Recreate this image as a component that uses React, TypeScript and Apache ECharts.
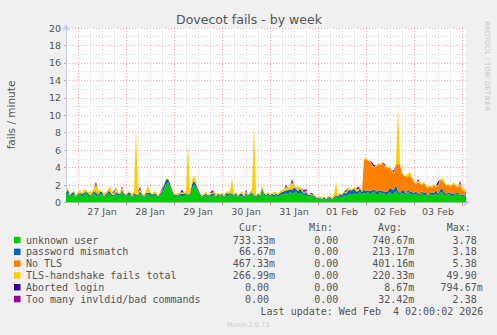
import React, { useEffect, useRef } from 'react';
import * as echarts from 'echarts';

// hourly samples from 26 Jan 18:00 to 04 Feb 02:00 (201 points)
const START_DAY = 26;
const START_HOUR = 18;
const N_POINTS = 201;

const DAY_LABELS = ['27 Jan', '28 Jan', '29 Jan', '30 Jan', '31 Jan', '01 Feb', '02 Feb', '03 Feb'];
const Y_TICKS = { min: 0, max: 20, step: 2 };

const UNKNOWN_USER = [
  0.9,1.1,0.7,0.8,1.0,0.6,
  0.8,1.0,0.7,0.9,1.2,0.8,0.6,0.9,1.1,0.7,0.8,1.0,0.9,0.6,0.8,1.1,0.9,0.7,0.8,1.0,0.7,0.9,1.2,0.8,
  0.7,0.9,0.8,0.6,0.9,0.7,0.8,1.0,0.7,0.6,0.9,1.0,0.8,0.7,0.9,0.8,0.6,0.8,1.0,1.5,2.1,2.3,1.8,1.1,
  0.7,0.8,0.6,0.9,0.7,0.8,1.0,0.7,0.9,1.6,2.0,1.7,1.2,0.8,0.6,0.7,0.9,0.6,0.8,0.7,0.9,0.6,0.8,0.7,
  0.8,0.6,0.9,0.7,1.0,0.8,0.7,0.9,0.6,0.8,0.7,0.6,0.9,0.7,0.8,1.1,0.7,0.6,0.8,0.7,1.5,0.8,0.7,0.9,
  0.7,0.8,0.6,0.9,0.7,0.8,1.0,0.9,1.1,0.9,1.2,1.0,1.1,1.3,0.9,1.1,1.0,0.8,0.9,0.7,0.8,0.6,0.7,0.5,
  0.4,0.5,0.3,0.4,0.3,0.5,0.4,0.3,0.5,0.6,0.5,0.7,0.6,0.8,0.7,0.9,1.0,0.8,1.1,0.9,1.0,1.2,0.9,1.1,
  1.0,1.2,0.9,1.1,1.3,1.0,0.9,1.2,1.0,1.1,0.8,1.0,1.2,0.9,1.1,1.3,1.0,0.9,1.1,1.0,0.8,1.2,1.0,0.9,
  0.9,1.0,0.8,0.9,1.1,0.8,0.9,0.7,1.0,0.8,0.9,1.0,0.8,1.1,1.2,0.9,0.8,1.0,0.9,0.7,0.8,1.0,0.9,0.8,
  0.7,0.8,0.73,
];

const PASSWORD_MISMATCH = [
  0.2,0.4,0.1,0.3,0.2,0.1,
  0.2,0.1,0.3,0.2,0.1,0.3,0.2,0.1,0.2,0.4,0.1,0.2,0.3,0.1,0.2,0.1,0.3,0.2,0.1,0.2,0.3,0.1,0.2,0.2,
  0.1,0.2,0.3,0.1,0.2,0.2,0.1,0.3,0.2,0.1,0.2,0.1,0.3,0.2,0.1,0.2,0.1,0.2,0.3,0.5,0.5,0.4,0.4,0.3,
  0.2,0.1,0.2,0.1,0.3,0.2,0.1,0.2,0.1,0.5,0.5,0.4,0.3,0.2,0.1,0.2,0.1,0.2,0.1,0.3,0.2,0.1,0.2,0.1,
  0.2,0.1,0.2,0.3,0.1,0.2,0.1,0.2,0.1,0.2,0.3,0.1,0.2,0.1,0.2,0.1,0.2,0.1,0.2,0.1,0.2,0.3,0.1,0.2,
  0.1,0.2,0.3,0.1,0.2,0.3,0.2,0.4,0.3,0.5,0.3,0.4,0.6,0.3,0.4,0.5,0.3,0.2,0.3,0.2,0.1,0.2,0.1,0.1,
  0.1,0.1,0.1,0.2,0.1,0.1,0.2,0.1,0.1,0.2,0.2,0.3,0.2,0.4,0.3,0.5,0.4,0.6,0.5,0.4,0.3,0.4,0.3,0.4,
  0.3,0.2,0.4,0.3,0.2,0.3,0.4,0.2,0.3,0.2,0.4,0.3,0.5,0.6,0.4,0.7,0.3,0.2,0.3,0.4,0.2,0.3,0.2,0.3,
  0.2,0.3,0.2,0.1,0.2,0.3,0.2,0.1,0.2,0.3,0.2,0.4,0.2,0.3,0.5,0.3,0.2,0.1,0.2,0.3,0.2,0.1,0.2,0.1,
  0.2,0.1,0.07,
];

const NO_TLS = [
  0,0,0,0,0,0,
  0,0,0,0,0,0,0,0,0.1,0.2,0.1,0,0,0.1,0,0.2,0.1,0,0,0.1,0,0,0,0,
  0,0,0,0,0,0,0,0,0,0,0,0,0,0,0,0,0,0,0,0,0,0,0,0,
  0,0,0,0,0,0,0,0,0,0,0,0,0,0,0,0,0,0,0,0,0,0,0,0,
  0,0,0,0,0,0,0,0,0,0,0,0,0,0,0,0,0,0,0,0,0,0,0,0,
  0,0,0,0,0,0,0,0,0,0,0.1,0.2,0,0,0.1,0,0,0,0,0,0,0,0,0,
  0,0,0,0,0,0,0,0,0,0,0,0,0,0,0,0,0,0,0,0,0,0,0,3.4,
  3.7,3.4,3.4,2.8,2.5,2.8,3.1,2.9,3.2,2.9,2.9,2.6,2.3,2.1,1.8,2.3,3.2,3.2,1.9,1.7,1.9,1.5,1.8,1.6,
  1.2,0.8,1.3,1.2,0.7,1.2,0.7,0.9,0.7,0.6,0.9,0.4,0.9,1.0,0.9,1.1,0.9,1.0,0.7,1.0,1.1,0.8,0.6,1.1,
  0.6,0.4,0.47,
];

const TLS_HANDSHAKE = [
  0.1,0.2,0.1,0.0,0.2,0.1,
  0.2,0.3,0.1,0.4,0.2,0.1,0.5,0.2,0.3,0.8,0.4,0.2,0.1,0.3,0.2,0.1,0.6,0.3,0.2,0.5,0.2,0.1,0.3,0.2,
  0.1,0.2,0.1,0.3,0.2,7.6,0.4,0.2,0.1,0.2,0.3,0.8,0.2,0.1,0.3,0.2,0.1,0.2,0.1,0.1,0.1,0.1,0.1,0.2,
  0.2,0.1,0.3,0.1,0.2,0.1,0.3,5.8,0.2,0.5,0.6,0.4,0.2,0.1,0.2,0.1,0.3,0.1,0.2,0.1,0.2,0.3,0.1,0.2,
  0.1,0.2,0.1,0.3,0.2,1.8,0.2,0.1,0.2,0.1,0.3,0.1,0.2,0.1,0.2,0.3,7.9,0.2,0.1,0.2,0.3,0.1,0.2,0.1,
  0.2,0.1,0.3,0.2,0.1,0.2,0.3,0.2,0.4,0.3,0.3,0.7,0.3,0.2,0.4,0.2,0.3,0.1,0.2,0.1,0.2,0.1,0.1,0.1,
  0.1,0.1,0.2,0.1,0.1,0.2,0.1,0.2,0.3,1.6,0.2,0.1,0.2,0.1,0.2,0.3,0.2,0.1,0.2,0.3,0.2,0.1,0.2,0.1,
  0.1,0.1,0.1,0.1,0.1,0.1,0.1,0.1,0.1,0.1,0.1,0.1,0.1,0.1,0.1,0.1,6.5,0.2,0.1,0.1,0.1,0.3,0.5,0.2,
  0.1,0.1,0.2,0.1,0.1,0.1,0.1,0.1,0.1,0.1,0.1,0.1,0.1,0.2,0.2,0.2,0.1,0.1,0.1,0.1,0.2,0.1,0.1,0.2,
  0.2,0.2,0.27,
];

const ABORTED_LOGIN = [
  0,0,0,0,0,0,
  0,0,0,0,0,0,0,0,0,0,0,0,0,0,0,0,0,0,0.2,0,0,0,0,0,
  0,0,0,0,0,0,0,0,0,0,0,0,0,0,0,0,0,0,0,0,0,0,0,0,
  0,0,0,0,0.3,0,0,0,0,0,0,0,0,0,0,0,0,0,0,0,0,0,0,0,
  0,0,0,0,0,0,0,0,0,0,0,0,0,0,0,0,0,0,0,0,0,0,0,0,
  0,0,0,0,0,0,0,0,0.2,0,0,0,0,0,0,0,0,0,0.2,0,0,0,0,0,
  0,0,0,0,0,0,0,0,0,0,0,0,0,0,0.2,0,0,0,0,0,0,0,0,0,
  0,0,0,0,0.2,0,0,0,0,0,0,0,0,0,0,0,0,0,0,0,0,0,0,0,
  0,0,0,0,0,0,0,0,0,0,0,0,0.4,0,0,0,0,0,0,0,0,0,0,0,
  0,0,0,
];

const TOO_MANY_COMMANDS = [
  0,0,0,0,0,0,
  0,0,0,0,0,0,0,0,0,0.3,0,0,0,0,0,0,0,0,0,0,0,0,0.2,0,
  0,0,0,0,0,0,0,0.3,0,0,0,0,0,0,0,0,0,0,0.2,0,0,0,0,0,
  0,0,0,0,0,0,0,0,0,0,0,0,0,0,0,0,0,0,0,0.3,0,0,0,0,
  0,0,0,0,0,0,0,0,0,0,0,0,0.2,0,0,0,0,0,0,0,0,0,0,0,
  0,0,0,0,0,0,0,0,0,0,0,0.4,0,0,0,0,0,0.3,0,0,0,0.2,0,0,
  0,0,0,0,0,0,0,0,0,0,0,0,0,0,0,0,0,0,0,0,0.3,0,0,0,
  0,0,0,0.3,0,0,0,0,0,0.2,0,0,0,0,0.3,0,0,0,0,0,0,0,0,0,
  0,0,0.2,0,0,0,0,0,0,0,0,0,0,0,0,0,0,0,0,0,0,0,0,0.3,
  0,0,0,
];

const SERIES_NAMES = [
  'unknown user',
  'password mismatch',
  'No TLS',
  'TLS-handshake fails total',
  'Aborted login',
  'Too many invldid/bad commands',
];
const SERIES_COLORS = ['#00cc00', '#0066b3', '#ff8000', '#ffcc00', '#330099', '#990099'];
const SERIES_DATA = [UNKNOWN_USER, PASSWORD_MISMATCH, NO_TLS, TLS_HANDSHAKE, ABORTED_LOGIN, TOO_MANY_COMMANDS];

const CUR = ['733.33m', '66.67m', '467.33m', '266.99m', '0.00', '0.00'];
const MIN = ['0.00', '0.00', '0.00', '0.00', '0.00', '0.00'];
const AVG = ['740.67m', '213.17m', '401.16m', '220.33m', '8.67m', '32.42m'];
const MAX = ['3.78', '3.18', '5.38', '49.90', '794.67m', '2.38'];

const TITLE = 'Dovecot fails - by week';
const Y_NAME = 'fails / minute';
const LAST_UPDATE = 'Last update: Wed Feb  4 02:00:02 2026';
const SIDE_TEXT = 'RRDTOOL / TOBI OETIKER';
const FOOTER = 'Munin 2.0.73';

function buildCategories(): string[] {
  const out: string[] = [];
  for (let i = 0; i < N_POINTS; i++) {
    const t = START_HOUR + i;
    const d = START_DAY + Math.floor(t / 24);
    const h = t % 24;
    out.push(`${d}/${h}`);
  }
  return out;
}

export default function App() {
  const ref = useRef<HTMLDivElement>(null);
  useEffect(() => {
    document.body.style.margin = '0';
    const chart = echarts.init(ref.current!, undefined, { renderer: 'svg' });
    const cats = buildCategories();
    const firstMidnight = 24 - START_HOUR; // index of first 00:00
    const firstNoon = firstMidnight + 12;
    const isMajor = (i: number) => i >= firstMidnight && (i - firstMidnight) % 24 === 0;
    const isMinor = (i: number) => (i - firstMidnight) % 6 === 0 && !isMajor(i);
    const isLabel = (i: number) => i >= firstNoon && (i - firstNoon) % 24 === 0;

    const TXT = '#555555';
    const SANS = '"DejaVu Sans", sans-serif';
    const MONO = '"DejaVu Sans Mono", monospace';
    const CW = 6.02;
    const rowY = (k: number) => 240 + k * 11.8;
    const graphics: any[] = [];
    const text = (x: number, y: number, s: string, font: string, fill: string, align = 'left', rotation = 0) => {
      graphics.push({
        type: 'text',
        x,
        y,
        rotation,
        silent: true,
        style: {
          text: s,
          font,
          fill,
          textAlign: align,
          align,
          textVerticalAlign: 'middle',
          verticalAlign: 'middle',
        },
      });
    };
    text(249, 19.5, TITLE, `12.5px ${SANS}`, TXT, 'center');
    text(11, 115, Y_NAME, `10.5px ${SANS}`, TXT, 'center', Math.PI / 2);
    text(487, 66, SIDE_TEXT, `7px ${SANS}`, '#c8c8c8', 'center', -Math.PI / 2);
    text(239, 227.5, 'Cur:', `10px ${MONO}`, TXT);
    text(309, 227.5, 'Min:', `10px ${MONO}`, TXT);
    text(378, 227.5, 'Avg:', `10px ${MONO}`, TXT);
    text(446.7, 227.5, 'Max:', `10px ${MONO}`, TXT);
    const cols: [string[], number][] = [
      [CUR, 275],
      [MIN, 344.3],
      [AVG, 414.3],
      [MAX, 482.7],
    ];
    SERIES_NAMES.forEach((name, k) => {
      const y = rowY(k);
      graphics.push({
        type: 'rect',
        silent: true,
        shape: { x: 14, y: y - 3.2, width: 6.5, height: 6.5 },
        style: { fill: SERIES_COLORS[k] },
      });
      text(26, y, name, `10px ${MONO}`, TXT);
      cols.forEach(([arr, end]) => {
        const s = arr[k];
        const x = s.endsWith('m') ? end : end - CW;
        text(x, y, s, `10px ${MONO}`, TXT, 'right');
      });
    });
    text(483.3, 311, LAST_UPDATE, `10px ${MONO}`, TXT, 'right');
    text(248, 324.5, FOOTER, `6.5px ${SANS}`, '#cccccc', 'center');

    const option: any = {
      animation: false,
      backgroundColor: '#f0f0f0',
      grid: {
        left: 66,
        top: 28,
        width: 400,
        height: 174.5,
        show: true,
        backgroundColor: '#ffffff',
        borderWidth: 0,
      },
      xAxis: [
        {
          type: 'category',
          data: cats,
          boundaryGap: false,
          axisLine: {
            show: true,
            lineStyle: { color: '#c8c8f0', width: 1 },
            symbol: ['none', 'arrow'],
            symbolSize: [6, 7],
            symbolOffset: [0, 4],
          },
          axisTick: {
            show: true,
            interval: (i: number) => isMajor(i),
            length: 3,
            lineStyle: { color: 'rgba(255,0,0,0.45)' },
          },
          axisLabel: {
            interval: (i: number) => isLabel(i),
            formatter: (_v: string, i: number) => DAY_LABELS[(i - firstNoon) / 24] ?? '',
            color: TXT,
            fontSize: 9.5,
            fontFamily: SANS,
            margin: 4,
          },
          splitLine: {
            show: true,
            interval: (i: number) => isMajor(i),
            lineStyle: { color: 'rgba(255,0,0,0.33)', type: [1, 2], width: 1 },
          },
        },
        {
          type: 'category',
          data: cats,
          boundaryGap: false,
          position: 'top',
          axisLine: { show: false },
          axisTick: { show: false },
          axisLabel: { show: false },
          splitLine: {
            show: true,
            interval: (i: number) => isMinor(i),
            lineStyle: { color: '#d6d6d6', type: [1, 2], width: 1 },
          },
        },
      ],
      yAxis: {
        type: 'value',
        min: Y_TICKS.min,
        max: Y_TICKS.max,
        interval: Y_TICKS.step,
        axisLine: {
          show: true,
          lineStyle: { color: '#c8c8f0', width: 1 },
          symbol: ['none', 'arrow'],
          symbolSize: [6, 7],
          symbolOffset: [0, 4],
        },
        axisTick: { show: true, length: 2, lineStyle: { color: '#b0b0b0' } },
        axisLabel: { color: TXT, fontSize: 9.5, fontFamily: SANS, margin: 5 },
        splitLine: { show: true, lineStyle: { color: 'rgba(255,0,0,0.33)', type: [1, 2], width: 1 } },
        minorTick: { show: false, splitNumber: 2 },
        minorSplitLine: { show: true, lineStyle: { color: '#d6d6d6', type: [1, 2], width: 1 } },
      },
      graphic: graphics,
      series: SERIES_NAMES.map((name, k) => ({
        name,
        type: 'line',
        stack: 'total',
        xAxisIndex: 0,
        data: SERIES_DATA[k],
        symbol: 'none',
        showSymbol: false,
        smooth: false,
        lineStyle: { width: 0, color: SERIES_COLORS[k] },
        itemStyle: { color: SERIES_COLORS[k] },
        areaStyle: { color: SERIES_COLORS[k], opacity: 1 },
        silent: true,
      })),
    };
    chart.setOption(option);
    return () => chart.dispose();
  }, []);
  return <div ref={ref} style={{ width: 497, height: 335 }} />;
}
